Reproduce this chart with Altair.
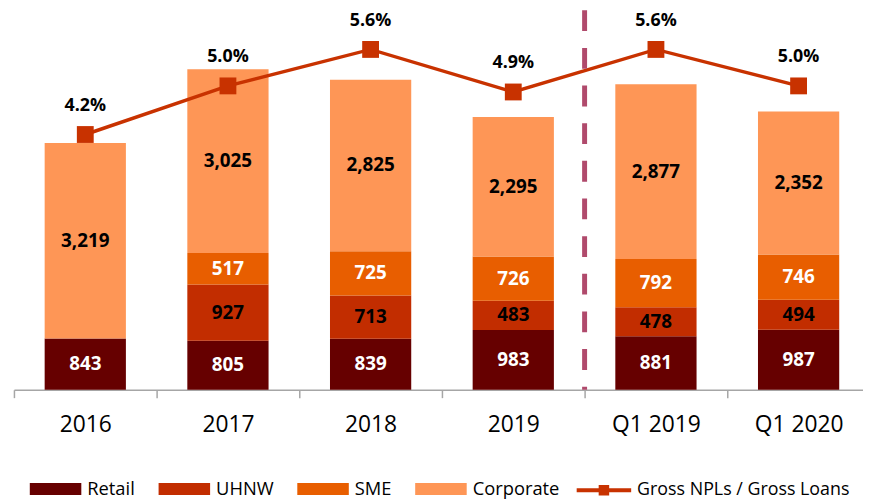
import altair as alt
import pandas as pd

# ---- data ----
categories = ["2016", "2017", "2018", "2019", "Q1 2019", "Q1 2020"]
segments = ["Retail", "UHNW", "SME", "Corporate"]
retail = [843, 805, 839, 983, 881, 987]
uhnw = [0, 927, 713, 483, 478, 494]
sme = [0, 517, 725, 726, 792, 746]
corporate = [3219, 3025, 2825, 2295, 2877, 2352]
npl_ratio = [4.2, 5.0, 5.6, 4.9, 5.6, 5.0]
line_series = "Gross NPLs / Gross Loans"
divider_before = "Q1 2019"

seg_colors = ["#660000", "#C22D00", "#E85E00", "#FE9656"]
label_on = ["white", "black", "white", "black"]
line_color = "#C83200"

rows = []
for i, c in enumerate(categories):
    cum = 0
    for k, (s, vals) in enumerate(zip(segments, [retail, uhnw, sme, corporate])):
        v = vals[i]
        if v:
            rows.append(dict(cat=c, seg=s, v=v, lo=cum, hi=cum + v,
                             mid=cum + v / 2, lab=label_on[k]))
        cum += v
bars_df = pd.DataFrame(rows)
line_df = pd.DataFrame({"cat": categories, "npl": npl_ratio,
                        "series": [line_series] * len(categories)})
div_df = pd.DataFrame({"cat": [divider_before]})

FONT = "Open Sans"

xscale = alt.Scale(domain=categories, range=[0, 864], paddingInner=0, paddingOuter=0)
xaxis = alt.Axis(title=None, tickBand="extent", labelFont=FONT, labelFontSize=23,
                 labelColor="#000000", labelPadding=16, labelAngle=0,
                 domainColor="#A6A6A6", domainWidth=1.5, tickColor="#A6A6A6",
                 tickWidth=1.5, tickSize=8, grid=False)
X = alt.X("cat:N", scale=xscale, axis=xaxis, sort=categories)
yscale = alt.Scale(domain=[0, 6000], nice=False, zero=True)
pscale = alt.Scale(domain=[0, 6], nice=False, zero=True)

bars = alt.Chart(bars_df).mark_bar(width=82).encode(
    x=X,
    y=alt.Y("lo:Q", scale=yscale, axis=None),
    y2="hi:Q",
    color=alt.Color("seg:N", scale=alt.Scale(domain=segments, range=seg_colors),
                    legend=alt.Legend(title=None, orient="none", legendX=16, legendY=442,
                                      direction="horizontal",
                                      symbolType="M-1,-0.23H1V0.23H-1Z", symbolSize=2704,
                                      symbolStrokeWidth=0, symbolOpacity=1,
                                      labelFont=FONT, labelFontSize=18.5, labelColor="#000000",
                                      labelOffset=6, columnPadding=23, padding=0)),
)

def bar_labels(colr):
    return alt.Chart(bars_df).transform_filter(alt.datum.lab == colr).mark_text(
        font=FONT, fontSize=19, fontWeight="bold", baseline="middle", color=colr
    ).encode(
        x=X,
        y=alt.Y("mid:Q", scale=yscale, axis=None),
        text=alt.Text("v:Q", format=","),
    )

line = alt.Chart(line_df).mark_line(strokeWidth=3.5).encode(
    x=X,
    y=alt.Y("npl:Q", scale=pscale, axis=None),
    stroke=alt.Stroke("series:N", scale=alt.Scale(domain=[line_series], range=[line_color]),
                      legend=alt.Legend(title=None, orient="none", legendX=566, legendY=440,
                                        symbolType="M-1,0H1M-0.12,-0.12H0.12V0.12H-0.12Z",
                                        symbolSize=3025, symbolStrokeWidth=4,
                                        symbolFillColor=line_color, labelLimit=400,
                                        labelFont=FONT, labelFontSize=18,
                                        labelColor="#000000", labelOffset=4, padding=0)),
)

points = alt.Chart(line_df).mark_point(shape="square", filled=True, size=289,
                                       color=line_color, opacity=1).encode(
    x=X,
    y=alt.Y("npl:Q", scale=pscale, axis=None),
)

pct = alt.Chart(line_df).transform_calculate(
    lab="format(datum.npl, '.1f') + '%'"
).mark_text(font=FONT, fontSize=18, fontWeight="bold", dy=-29, color="#000000").encode(
    x=X,
    y=alt.Y("npl:Q", scale=pscale, axis=None),
    text="lab:N",
)

divider = alt.Chart(div_df).mark_rule(color="#B04A6C", strokeWidth=5,
                                      strokeDash=[21, 17]).encode(
    x=alt.X("cat:N", scale=xscale, axis=xaxis, bandPosition=0),
    y=alt.value(-15),
    y2=alt.value(368),
)

chart = alt.layer(
    bars, bar_labels("white"), bar_labels("black"), line, divider, points, pct
).resolve_scale(y="independent").properties(
    width=857, height=368,
    autosize=alt.AutoSizeParams(type="none"),
    padding={"left": 6, "top": 15, "right": 0, "bottom": 108},
).configure_view(stroke=None)

chart.save("out.html", embed_options={"renderer": "svg", "actions": False})
